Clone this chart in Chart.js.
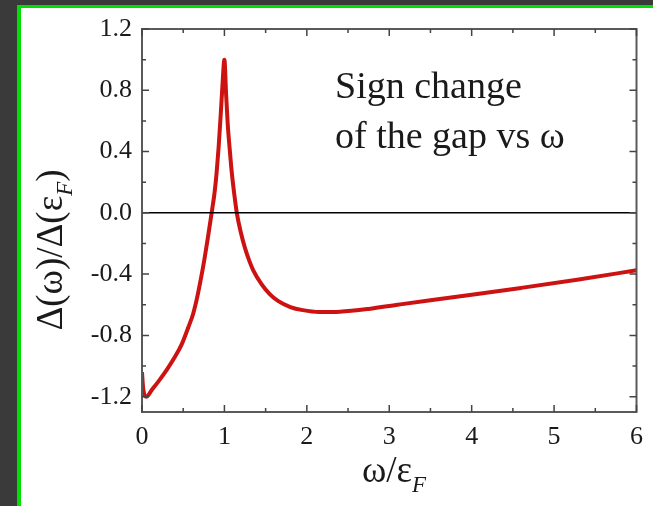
<!DOCTYPE html>
<html>
<head>
<meta charset="utf-8">
<script src="https://cdn.jsdelivr.net/npm/chart.js@4.4.0/dist/chart.umd.min.js"></script>
<style>
  html, body { margin: 0; padding: 0; background: #3a3a3a; }
  #frame { position: absolute; left: 17px; top: 5px; right: 0; bottom: 0; background: #fff;
           border-top: 3px solid #00e000; border-left: 4px solid #00e000; }
  #wrap { position: absolute; left: 0; top: 0; width: 653px; height: 506px; }
</style>
</head>
<body>
<div id="frame"></div>
<div id="wrap"><canvas id="chart"></canvas></div>
<script>
// omega / eps_F and Delta(omega)/Delta(eps_F)
const omega = [0, 0.015, 0.055, 0.12, 0.2, 0.3, 0.4, 0.48, 0.56, 0.62, 0.67, 0.72, 0.76, 0.8,
  0.845, 0.88, 0.905, 0.93, 0.955, 0.975, 1.0, 1.02, 1.04, 1.065, 1.09, 1.12, 1.15, 1.2, 1.25,
  1.3, 1.35, 1.45, 1.55, 1.65, 1.8, 1.95, 2.15, 2.4, 2.75, 3.1, 3.5, 4.0, 4.6, 5.3, 6.0]
const gap = [-1.04, -1.15, -1.2, -1.155, -1.1, -1.025, -0.94, -0.86, -0.75, -0.66, -0.55, -0.415,
  -0.295, -0.16, 0.0, 0.13, 0.26, 0.43, 0.64, 0.82, 1.0, 0.78, 0.58, 0.41, 0.26, 0.12, 0.0,
  -0.13, -0.23, -0.31, -0.375, -0.465, -0.53, -0.575, -0.615, -0.635, -0.647, -0.645, -0.627,
  -0.6, -0.57, -0.535, -0.49, -0.435, -0.375]

const xTicks = [0, 1, 2, 3, 4, 5, 6]
const xMinor = [0.5, 1.5, 2.5, 3.5, 4.5, 5.5]
const yTicks = [-1.2, -0.8, -0.4, 0, 0.4, 0.8, 1.2]
const yMinor = [-1.0, -0.6, -0.2, 0.2, 0.6, 1.0]

const serif = '"Liberation Serif", "DejaVu Serif", serif'

// draws "main" + italic subscript + "tail", centred on (0,0) in the current transform
function subText(ctx, main, sub, tail, size) {
  const big = size + 'px ' + serif
  const small = 'italic ' + Math.round(size * 0.62) + 'px ' + serif
  ctx.font = big
  const w1 = ctx.measureText(main).width
  const w3 = ctx.measureText(tail).width
  ctx.font = small
  const w2 = ctx.measureText(sub).width
  let x = -(w1 + w2 + w3) / 2
  ctx.textAlign = 'left'
  ctx.textBaseline = 'alphabetic'
  ctx.font = big
  ctx.fillText(main, x, 0)
  x += w1
  ctx.font = small
  ctx.fillText(sub, x, size * 0.28)
  x += w2
  ctx.font = big
  ctx.fillText(tail, x, 0)
}

const decorations = {
  id: 'decorations',
  afterDatasetsDraw(chart) {
    const { ctx, chartArea: a, scales: { x, y } } = chart
    ctx.save()

    // zero line
    const y0 = y.getPixelForValue(0)
    ctx.strokeStyle = '#000'
    ctx.lineWidth = 1.5
    ctx.beginPath()
    ctx.moveTo(a.left, y0)
    ctx.lineTo(a.right, y0)
    ctx.stroke()

    // box
    ctx.strokeStyle = '#5a5a5a'
    ctx.lineWidth = 2
    ctx.strokeRect(a.left, a.top, a.right - a.left, a.bottom - a.top)

    // inward ticks on all four sides
    ctx.strokeStyle = '#444'
    ctx.lineWidth = 1.5
    ctx.beginPath()
    const xt = (vals, len) => vals.forEach(v => {
      const px = x.getPixelForValue(v)
      ctx.moveTo(px, a.bottom); ctx.lineTo(px, a.bottom - len)
      ctx.moveTo(px, a.top); ctx.lineTo(px, a.top + len)
    })
    const yt = (vals, len) => vals.forEach(v => {
      const py = y.getPixelForValue(v)
      ctx.moveTo(a.left, py); ctx.lineTo(a.left + len, py)
      ctx.moveTo(a.right, py); ctx.lineTo(a.right - len, py)
    })
    xt(xTicks, 7); xt(xMinor, 4)
    yt(yTicks, 7); yt(yMinor, 4)
    ctx.stroke()

    ctx.fillStyle = '#1a1a1a'

    // note
    ctx.font = '38px ' + serif
    ctx.textAlign = 'left'
    ctx.textBaseline = 'alphabetic'
    ctx.fillText('Sign change', a.left + 193, a.top + 69)
    ctx.fillText('of the gap vs \u03c9', a.left + 193, a.top + 119)

    // x title
    ctx.save()
    ctx.translate(394, 482)
    subText(ctx, '\u03c9/\u03b5', 'F', '', 37)
    ctx.restore()

    // y title
    ctx.save()
    ctx.translate(62, 250)
    ctx.rotate(-Math.PI / 2)
    subText(ctx, '\u0394(\u03c9)/\u0394(\u03b5', 'F', ')', 37)
    ctx.restore()

    ctx.restore()
  }
}

new Chart(document.getElementById('chart'), {
  type: 'scatter',
  data: {
    datasets: [{
      data: omega.map((w, i) => ({ x: w, y: gap[i] })),
      showLine: true,
      borderColor: 'rgb(205, 18, 18)',
      borderWidth: 4,
      pointRadius: 0,
      cubicInterpolationMode: 'monotone'
    }]
  },
  options: {
    responsive: true,
    maintainAspectRatio: false,
    animation: false,
    layout: { padding: { top: 29, right: 16, left: 0, bottom: 0 } },
    plugins: { legend: { display: false }, tooltip: { enabled: false } },
    scales: {
      x: {
        type: 'linear',
        min: 0,
        max: 6,
        afterBuildTicks: s => { s.ticks = xTicks.map(v => ({ value: v })) },
        afterFit: s => { s.height = 94 },
        grid: { display: false, drawTicks: false },
        border: { display: false },
        ticks: { color: '#1a1a1a', padding: 10, font: { family: serif, size: 26 } }
      },
      y: {
        min: -1.3,
        max: 1.2,
        afterBuildTicks: s => { s.ticks = yTicks.map(v => ({ value: v })) },
        afterFit: s => { s.width = 142 },
        grid: { display: false, drawTicks: false },
        border: { display: false },
        ticks: {
          color: '#1a1a1a', padding: 10, font: { family: serif, size: 26 },
          callback: v => v.toFixed(1)
        }
      }
    }
  },
  plugins: [decorations]
})
</script>
</body>
</html>
